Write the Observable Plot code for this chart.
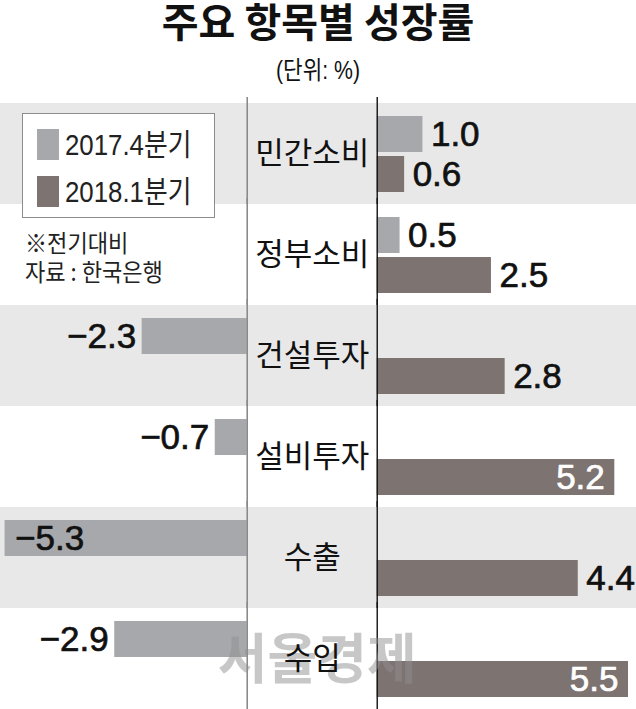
<!DOCTYPE html>
<html>
<head>
<meta charset="utf-8">
<script src="https://cdn.jsdelivr.net/npm/d3@7"></script>
<script src="https://cdn.jsdelivr.net/npm/@observablehq/plot@0.6"></script>
<style>
  html, body { margin: 0; padding: 0; background: #fff; }
  #wrap { position: relative; width: 636px; height: 709px; overflow: hidden; font-family: "Noto Sans CJK KR", sans-serif; color: #111; }
  #title { position: absolute; left: 0; top: 0; width: 636px; text-align: center; font-size: 40px; font-weight: 700; line-height: 40px; }
  #sub { position: absolute; left: 0; top: 56px; width: 636px; text-align: center; font-size: 25px; line-height: 28px; font-family: "Liberation Sans", "Noto Sans CJK KR", sans-serif; transform: scaleX(0.85); transform-origin: 318px 0; }
  #chart { position: absolute; left: 0; top: 97px; }
  #legend { position: absolute; left: 22px; top: 113px; width: 191px; height: 103px; border: 1.5px solid #8c8c8c; background: #fff; }
  .lrow { position: absolute; left: 14px; height: 31px; display: flex; align-items: center; }
  .sw { width: 22px; height: 31px; margin-right: 6px; }
  .lt { font-family: "Liberation Sans", "Noto Sans CJK KR", sans-serif; font-size: 30px; color: #222; line-height: 31px; transform: scaleX(0.86); transform-origin: 0 50%; white-space: nowrap; }
  .note { position: absolute; left: 25px; font-size: 24px; line-height: 26px; color: #222; white-space: nowrap; transform: scaleX(0.92); transform-origin: 0 0; }
</style>
</head>
<body>
<div id="wrap">
  <div id="title"></div>
  <div id="sub"></div>
  <div id="chart"></div>
  <div id="legend"></div>
  <div class="note" id="note1" style="top:229px"></div>
  <div class="note" id="note2" style="top:258px"></div>
</div>
<script>
const titleText = "주요 항목별 성장률";
const subtitleText = "(단위: %)";
const noteLines = ["※전기대비", "자료 : 한국은행"];
const watermarkText = "서울경제";

const categories = ["민간소비", "정부소비", "건설투자", "설비투자", "수출", "수입"];
const series = ["2017.4분기", "2018.1분기"];
const q4_2017 = [1.0, 0.5, -2.3, -0.7, -5.3, -2.9];
const q1_2018 = [0.6, 2.5, 2.8, 5.2, 4.4, 5.5];
const colors = ["#a7a8ab", "#7d7370"];

document.getElementById("title").textContent = titleText;
document.getElementById("sub").textContent = subtitleText;
document.getElementById("note1").textContent = noteLines[0];
document.getElementById("note2").textContent = noteLines[1];

// legend
const legend = document.getElementById("legend");
series.forEach((s, i) => {
  const row = document.createElement("div");
  row.className = "lrow";
  row.style.top = (15 + i * 47) + "px";
  const sw = document.createElement("div");
  sw.className = "sw";
  sw.style.background = colors[i];
  const t = document.createElement("div");
  t.className = "lt";
  t.textContent = s;
  row.appendChild(sw); row.appendChild(t);
  legend.appendChild(row);
});

const rows = categories.flatMap((c, i) => [
  {cat: c, series: series[0], value: q4_2017[i]},
  {cat: c, series: series[1], value: q1_2018[i]}
]);
const neg = rows.filter(d => d.value < 0);
const pos = rows.filter(d => d.value >= 0);
const GAP = 130;
const inside = d => Math.abs(d.value) >= 5;
const fmt = d => (d.value < 0 ? "−" : "") + Math.abs(d.value).toFixed(1);
const numFont = '"Liberation Sans", Arial, sans-serif';
const korFont = '"Noto Sans CJK KR", sans-serif';
const numStyle = {fontSize: 35, fontFamily: numFont, strokeWidth: 0.7, ariaLabel: "value"};

const chart = Plot.plot({
  width: 636,
  height: 612,
  marginTop: 6, marginBottom: 0, marginLeft: 0, marginRight: 0,
  x: {domain: [-5.4, 8.52], axis: null},
  y: {domain: series, axis: null, paddingInner: 0.1, paddingOuter: 0.3125},
  fy: {domain: categories, axis: null, padding: 0},
  color: {domain: series, range: colors},
  marks: [
    Plot.rect(categories.filter((c, i) => i % 2 === 0), {fy: d => d, fill: "#e8e8e9"}),
    Plot.barX(neg, {fy: "cat", y: "series", x: "value", fill: "series"}),
    Plot.barX(pos, {fy: "cat", y: "series", x: "value", fill: "series", dx: GAP}),
    Plot.ruleX([0], {stroke: "#8a8a8a", strokeWidth: 1.6, insetTop: -6}),
    Plot.ruleX([0], {stroke: "#111", strokeWidth: 1.4, dx: GAP, insetTop: -6}),
    Plot.text([watermarkText], {fy: [categories[5]], x: () => 0, dx: 70, dy: 3, text: d => d,
      fontSize: 54, fontWeight: 700, fill: "#8f8f8f", fillOpacity: 0.5, ariaLabel: "watermark",
      fontFamily: korFont}),
    Plot.text(categories, {fy: d => d, x: () => 0, dx: 65, text: d => d, ariaLabel: "category",
      fontSize: 31, fill: "#111", fontFamily: korFont}),
    Plot.text(neg.filter(d => !inside(d)), {...numStyle, fy: "cat", y: "series", x: "value", text: fmt,
      textAnchor: "end", dx: -6, fill: "#111", stroke: "#111"}),
    Plot.text(neg.filter(inside), {...numStyle, fy: "cat", y: "series", x: "value", text: fmt,
      textAnchor: "start", dx: 10, fill: "#111", stroke: "#111"}),
    Plot.text(pos.filter(d => !inside(d)), {...numStyle, fy: "cat", y: "series", x: "value", text: fmt,
      textAnchor: "start", dx: GAP + 8, fill: "#111", stroke: "#111"}),
    Plot.text(pos.filter(inside), {...numStyle, fy: "cat", y: "series", x: "value", text: fmt,
      textAnchor: "end", dx: GAP - 10, fill: "#fff", stroke: "#fff"})
  ]
});

// horizontally condense text to match the narrow typefaces of the reference
function condense(label, k) {
  d3.select(chart).selectAll(`g[aria-label="${label}"] text`).each(function() {
    const t = this.getAttribute("transform") || "";
    this.setAttribute("transform", t + ` scale(${k},1)`);
  });
}
condense("value", 0.8);
condense("category", 0.88);
condense("watermark", 0.92);
document.getElementById("chart").appendChild(chart);
</script>
</body>
</html>
